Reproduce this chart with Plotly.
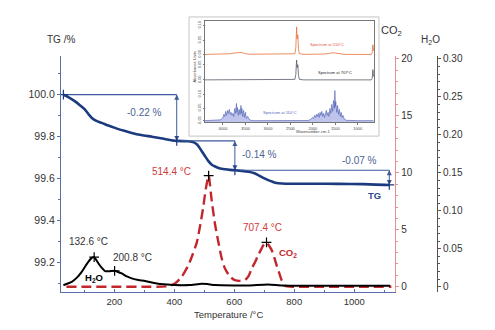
import plotly.graph_objects as go

# ---------------- TG / EGA data ----------------
tg_temp = [30, 45, 69, 85, 102, 115, 125, 140, 158, 180, 202, 230, 258, 290, 325, 365, 408,
           447, 465, 475, 483, 491, 502, 513, 524, 536, 550, 569, 585, 602, 625, 647, 665,
           680, 695, 713, 728, 741, 760, 780, 850, 947, 1030, 1117]
tg_mass = [100.0, 99.99, 99.968, 99.95, 99.929, 99.905, 99.889, 99.875, 99.866, 99.853, 99.842,
           99.829, 99.818, 99.808, 99.80, 99.79, 99.78, 99.778, 99.773, 99.764, 99.75, 99.732,
           99.708, 99.685, 99.668, 99.658, 99.65, 99.645, 99.642, 99.64, 99.637, 99.633, 99.627,
           99.617, 99.605, 99.593, 99.585, 99.579, 99.577, 99.576, 99.576, 99.575, 99.574, 99.57]

# mass-loss steps: temperatures and TG levels bounding each step
step_temp = [30, 408, 602, 1117]
step_level = [100.0, 99.78, 99.64, 99.57]
step_label = ["-0.22 %", "-0.14 %", "-0.07 %"]

co2_temp = [40, 100, 200, 300, 380, 403, 425, 447, 462, 475, 487, 497, 505, 514.4, 524, 535,
            547, 558, 569, 585, 602, 619, 636, 648, 658, 670, 680, 690, 697, 707.4, 716, 725,
            733, 741, 750, 758, 769, 800, 900, 1000, 1124]
co2_signal = [0, 0, 0, 0, 0.05, 0.3, 0.9, 1.9, 2.9, 3.9, 5.5, 7.1, 8.6, 9.75, 7.7, 5.6, 3.9,
              2.5, 1.6, 0.9, 0.58, 0.52, 0.6, 0.95, 1.6, 2.2, 2.8, 3.3, 3.65, 3.9, 3.6, 3.2,
              2.6, 1.9, 1.2, 0.58, 0.09, 0.0, 0.0, 0.0, 0.0]

h2o_temp = [30, 36, 58, 75, 91, 103, 113, 122, 132.6, 140, 147, 158, 169, 185, 200.8, 212, 225,
            240, 258, 280, 302, 325, 347, 375, 402, 450, 491, 510, 536, 600, 650, 713, 760, 850,
            950, 1050, 1120]
h2o_signal = [0.002, 0.003, 0.0065, 0.012, 0.0196, 0.027, 0.0327, 0.037, 0.039, 0.035, 0.0306,
              0.025, 0.0205, 0.0205, 0.021, 0.0195, 0.0175, 0.014, 0.011, 0.009, 0.0075, 0.0055,
              0.004, 0.003, 0.0022, 0.0022, 0.004, 0.0035, 0.0022, 0.0018, 0.0018, 0.003, 0.0015,
              0.0012, 0.0012, 0.0012, 0.0012]

co2_peak_temp = [514.4, 707.4]
co2_peak_val = [9.75, 3.9]
h2o_peak_temp = [132.6, 200.8]
h2o_peak_val = [0.039, 0.021]

# ---------------- IR spectra (stacked, arbitrary offsets) ----------------
sp510_wn = [4400, 3950, 3850, 3750, 3700, 3650, 3600, 3550, 3500, 3400, 3000, 2500, 2400, 2380,
            2362, 2350, 2335, 2320, 2300, 2200, 1900, 1750, 1650, 1600, 1550, 1500, 1450, 1400,
            1300, 1000, 700, 680, 665, 650]
sp510_abs = [0.683, 0.684, 0.690, 0.697, 0.700, 0.702, 0.704, 0.698, 0.690, 0.685, 0.684, 0.684,
             0.690, 0.75, 0.96, 0.84, 0.88, 0.74, 0.69, 0.684, 0.684, 0.687, 0.693, 0.697, 0.700,
             0.697, 0.692, 0.688, 0.684, 0.683, 0.683, 0.70, 0.78, 0.72]

sp707_wn = [4400, 3950, 3800, 3700, 3600, 3500, 3000, 2500, 2400, 2380, 2362, 2350, 2335, 2320,
            2300, 2200, 1900, 1700, 1550, 1450, 1300, 1000, 700, 680, 665, 650]
sp707_abs = [0.427, 0.427, 0.430, 0.433, 0.431, 0.428, 0.427, 0.427, 0.432, 0.48, 0.627, 0.55,
             0.58, 0.47, 0.432, 0.427, 0.427, 0.429, 0.431, 0.429, 0.427, 0.427, 0.427, 0.44,
             0.53, 0.46]

sp110_wn = [4400, 4100, 4050, 4000, 3980, 3960, 3940, 3920, 3900, 3880, 3860, 3840, 3820, 3800,
            3780, 3760, 3740, 3720, 3700, 3690, 3680, 3660, 3640, 3620, 3600, 3590, 3580, 3560,
            3540, 3520, 3500, 3480, 3450, 3420, 3380, 3300, 2100, 2050, 2000, 1980, 1960, 1940,
            1920, 1900, 1880, 1860, 1840, 1820, 1800, 1780, 1760, 1740, 1720, 1700, 1680, 1660,
            1640, 1620, 1600, 1580, 1560, 1540, 1520, 1510, 1500, 1490, 1470, 1450, 1430, 1410,
            1390, 1370, 1350, 1330, 1300, 1250, 1000, 650]
sp110_abs = [0.017, 0.018, 0.025, 0.05, 0.08, 0.06, 0.11, 0.07, 0.12, 0.09, 0.13, 0.08, 0.10,
             0.07, 0.09, 0.06, 0.14, 0.09, 0.19, 0.10, 0.15, 0.07, 0.13, 0.08, 0.17, 0.09, 0.14,
             0.06, 0.12, 0.05, 0.10, 0.04, 0.06, 0.03, 0.02, 0.017, 0.018, 0.03, 0.05, 0.04,
             0.07, 0.05, 0.08, 0.06, 0.09, 0.05, 0.10, 0.07, 0.11, 0.06, 0.09, 0.05, 0.08, 0.12,
             0.07, 0.10, 0.06, 0.14, 0.09, 0.18, 0.11, 0.22, 0.14, 0.32, 0.16, 0.21, 0.10, 0.17,
             0.08, 0.13, 0.06, 0.10, 0.05, 0.07, 0.03, 0.02, 0.017, 0.017]

inset_xticks = [4000, 3500, 3000, 2500, 2000, 1500, 1000]
inset_yticks = [0.017, 0.143, 0.283, 0.427, 0.577, 0.683, 0.827, 0.977]
inset_yticktext = ["0.00", "0.05", "0.10", "0.00", "0.05", "0.00", "0.05", "0.10"]

# ---------------- styling ----------------
FONT = "Liberation Sans, Arial, sans-serif"
NAVY = "#1c3a7e"
GUIDE = "#3d5a9e"
RED = "#c1272d"
RED_TXT = "#d23a3a"
TXT = "#333333"

fig = go.Figure()

# TG curve
fig.add_trace(go.Scatter(x=tg_temp, y=tg_mass, mode="lines", line=dict(color=NAVY, width=2.6, shape="spline", smoothing=0.6),
                         yaxis="y", xaxis="x", showlegend=False, hoverinfo="skip"))

# horizontal guide lines and double-headed arrows for the mass-loss steps
for i in range(len(step_label)):
    fig.add_trace(go.Scatter(x=[step_temp[i], step_temp[i + 1]], y=[step_level[i], step_level[i]],
                             mode="lines", line=dict(color=GUIDE, width=1.2),
                             yaxis="y", xaxis="x", showlegend=False, hoverinfo="skip"))
    t = step_temp[i + 1]
    fig.add_trace(go.Scatter(x=[t, t], y=[step_level[i], step_level[i + 1]],
                             mode="lines+markers", line=dict(color=GUIDE, width=1),
                             marker=dict(symbol=["arrow-up", "arrow-down"], size=5, color=GUIDE,
                                         line=dict(width=0)),
                             yaxis="y", xaxis="x", showlegend=False, hoverinfo="skip"))

fig.add_trace(go.Scatter(x=step_temp, y=step_level, mode="markers",
                         marker=dict(symbol="cross-thin", size=7, line=dict(color=NAVY, width=1.2)),
                         yaxis="y", xaxis="x", showlegend=False, hoverinfo="skip"))

# CO2 signal
fig.add_trace(go.Scatter(x=co2_temp, y=co2_signal, mode="lines",
                         line=dict(color=RED, width=2.4, dash="10px,5px", shape="spline", smoothing=0.6),
                         yaxis="y2", xaxis="x", showlegend=False, hoverinfo="skip"))
fig.add_trace(go.Scatter(x=co2_peak_temp, y=co2_peak_val, mode="markers",
                         marker=dict(symbol="cross-thin", size=7, line=dict(color="black", width=1.2)),
                         yaxis="y2", xaxis="x", showlegend=False, hoverinfo="skip"))

# H2O signal
fig.add_trace(go.Scatter(x=h2o_temp, y=h2o_signal, mode="lines",
                         line=dict(color="black", width=2.0, shape="spline", smoothing=0.5),
                         yaxis="y3", xaxis="x", showlegend=False, hoverinfo="skip"))
fig.add_trace(go.Scatter(x=h2o_peak_temp, y=h2o_peak_val, mode="markers",
                         marker=dict(symbol="cross-thin", size=7, line=dict(color="black", width=1.2)),
                         yaxis="y3", xaxis="x", showlegend=False, hoverinfo="skip"))

# IR spectra
fig.add_trace(go.Scatter(x=sp510_wn, y=sp510_abs, mode="lines", line=dict(color="#e8703a", width=0.8),
                         xaxis="x2", yaxis="y4", showlegend=False, hoverinfo="skip"))
fig.add_trace(go.Scatter(x=sp707_wn, y=sp707_abs, mode="lines", line=dict(color="#555a66", width=0.8),
                         xaxis="x2", yaxis="y4", showlegend=False, hoverinfo="skip"))
fig.add_trace(go.Scatter(x=sp110_wn, y=sp110_abs, mode="lines", line=dict(color="#4a5cb0", width=0.6),
                         fill="tozeroy", fillcolor="rgba(110,125,210,0.45)",
                         xaxis="x2", yaxis="y4", showlegend=False, hoverinfo="skip"))


def label(x, y, text, xref, yref, size, color, xanchor="center", **extra):
    return dict(x=x, y=y, xref=xref, yref=yref, text=text, showarrow=False,
                xanchor=xanchor, yanchor="middle", font=dict(family=FONT, size=size, color=color), **extra)


annotations = []

label_pos = [(302, 99.916, "center"), (619, 99.716, "left"), (1019, 99.685, "center")]
for (lx, ly, al), txt in zip(label_pos, step_label):
    annotations.append(label(lx, ly, txt, "x", "y", 10, "#4a6394", xanchor=al))

annotations.append(label(1066, 99.519, "<b>TG</b>", "x", "y", 9.5, "#2c4a8c"))

# peak temperature labels
for t, (lx, ly) in zip(co2_peak_temp, [(391, 10.13), (693, 5.23)]):
    annotations.append(label(lx, ly, f"{t} °C", "x", "y2", 10, RED_TXT))
annotations.append(label(780, 3.0, "<b>CO<sub>2</sub></b>", "x", "y2", 9.5, RED))

for t, (lx, ly, al) in zip(h2o_peak_temp, [(113, 0.0598, "center"), (190, 0.0379, "left")]):
    annotations.append(label(lx, ly, f"{t} °C", "x", "y3", 10, TXT, xanchor=al))
annotations.append(label(132, 0.0118, "<b>H<sub>2</sub>O</b>", "x", "y3", 9.5, "black"))

# axis titles
annotations += [
    label(0.0, 0.9007, "TG /%", "paper", "paper", 10, TXT),
    label(0.840, 0.9326, "CO<sub>2</sub>", "paper", "paper", 11, TXT),
    label(0.939, 0.9007, "H<sub>2</sub>O", "paper", "paper", 10, TXT),
    label(0.4239, -0.079, "Temperature /°C", "paper", "paper", 9.5, TXT),
]

# inset labels
annotations += [
    label(1684, 0.787, "Spectrum at 510°C", "x2", "y4", 4, "#e0503c"),
    label(1507, 0.50, "Spectrum at 707°C", "x2", "y4", 4, "#222222"),
    label(2728, 0.103, "Spectrum at 110°C", "x2", "y4", 4, "#5566c0"),
    label(0.6396, 0.5745, "Wavenumber cm-1", "paper", "paper", 4, "#444"),
    label(0.3401, 0.805, "Absorbance Units", "paper", "paper", 4, "#444", textangle=-90),
]

fig.update_layout(
    width=495, height=330,
    margin=dict(l=61, r=40, t=10, b=38),
    paper_bgcolor="white", plot_bgcolor="white",
    font=dict(family=FONT, color=TXT),
    showlegend=False,
    xaxis=dict(domain=[0, 0.8477], anchor="y", range=[22, 1136], showgrid=False, zeroline=False,
               showline=True, linecolor="#5b6fae", linewidth=1.2,
               tickvals=[200, 400, 600, 800, 1000], ticks="inside", ticklen=3, tickcolor="#5b6fae",
               minor=dict(dtick=100, tick0=0, ticks="inside", ticklen=2, tickcolor="#5b6fae"),
               tickfont=dict(family=FONT, size=9.5, color=TXT)),
    yaxis=dict(domain=[0, 0.844], anchor="x", range=[99.06, 100.186], showgrid=False, zeroline=False,
               showline=True, linecolor="#5b6fae", linewidth=1.2,
               tickvals=[99.2, 99.4, 99.6, 99.8, 100.0], ticktext=["99.2", "99.4", "99.6", "99.8", "100.0"],
               ticks="outside", ticklen=3, tickcolor="#5b6fae",
               minor=dict(dtick=0.1, tick0=99.0, ticks="outside", ticklen=2, tickcolor="#5b6fae"),
               tickfont=dict(family=FONT, size=10.5, color=TXT)),
    yaxis2=dict(overlaying="y", side="right", anchor="x", range=[-0.46, 20.29], showgrid=False,
                zeroline=False, showline=True, linecolor="#e58f8f", linewidth=1.3,
                tickvals=[0, 5, 10, 15, 20], ticks="outside", ticklen=3, tickcolor="#e58f8f",
                minor=dict(dtick=1, tick0=0, ticks="outside", ticklen=2, tickcolor="#e58f8f"),
                tickfont=dict(family=FONT, size=10, color=TXT)),
    yaxis3=dict(overlaying="y", side="right", anchor="free", position=0.954, range=[-0.0069, 0.3043],
                showgrid=False, zeroline=False, showline=True, linecolor="#555555", linewidth=1.3,
                tickvals=[0, 0.05, 0.10, 0.15, 0.20, 0.25, 0.30],
                ticktext=["0", "0.05", "0.10", "0.15", "0.20", "0.25", "0.30"],
                ticks="outside", ticklen=3, tickcolor="#555555",
                minor=dict(dtick=0.01, tick0=0, ticks="outside", ticklen=2, tickcolor="#555555"),
                tickfont=dict(family=FONT, size=10, color=TXT)),
    xaxis2=dict(domain=[0.3655, 0.7944], anchor="y4", range=[4400, 640], showgrid=False, zeroline=False,
                showline=True, mirror=True, linecolor="#777777", linewidth=0.8,
                tickvals=inset_xticks, ticks="outside", ticklen=1.5, tickcolor="#777777",
                tickfont=dict(family=FONT, size=4, color="#444")),
    yaxis4=dict(domain=[0.606, 0.968], anchor="x2", range=[0, 1.02], showgrid=False, zeroline=False,
                showline=True, mirror=True, linecolor="#777777", linewidth=0.8,
                tickvals=inset_yticks, ticktext=inset_yticktext, tickangle=-90,
                ticks="outside", ticklen=1.5, tickcolor="#777777",
                tickfont=dict(family=FONT, size=4, color="#444")),
    shapes=[dict(type="rect", xref="paper", yref="paper", x0=0.3249, x1=0.8071, y0=0.5567, y1=0.9823,
                 line=dict(color="#c4c4c4", width=1), fillcolor="white", layer="below")],
    annotations=annotations,
)

fig.write_html("out.html")
